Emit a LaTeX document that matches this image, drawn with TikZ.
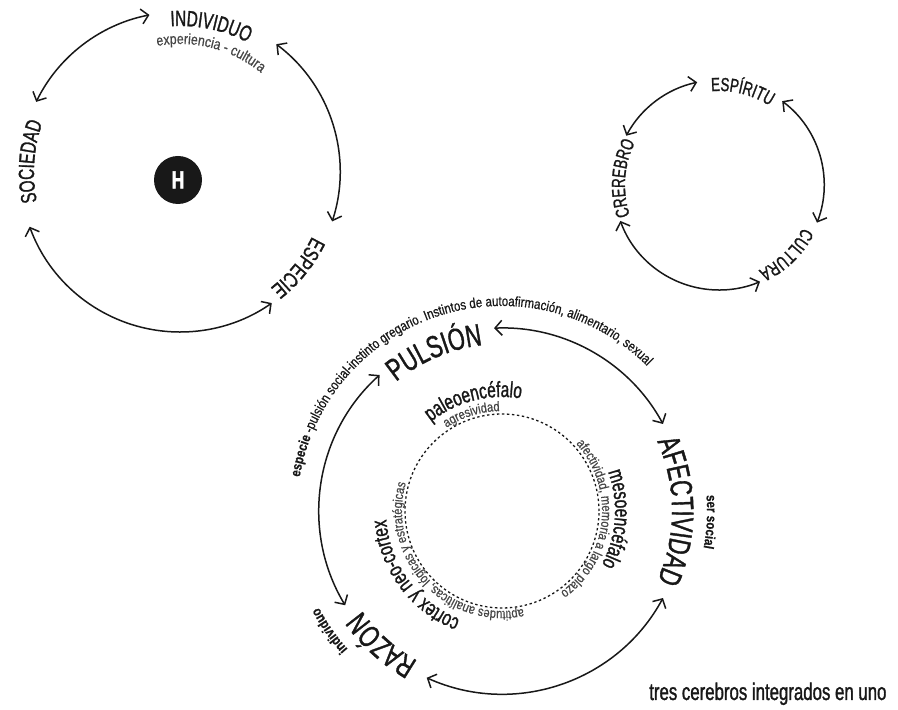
\documentclass[tikz,border=0pt]{standalone}
\usepackage{fontspec}
\setmainfont{Liberation Sans}
\newfontfamily\condfont[FakeStretch=0.7,FakeBold=1.2]{Liberation Sans}
\newfontfamily\smallfont[FakeStretch=0.82,FakeBold=0.6]{Liberation Sans}
\usetikzlibrary{arrows.meta,decorations.text}
\definecolor{diagcolor0000}{RGB}{255,255,255}
\definecolor{diagcolor0001}{RGB}{24,24,24}
\definecolor{diagcolor0002}{RGB}{70,70,70}
\newcommand{\ftxtA}{\condfont\fontsize{31}{31}\selectfont\color{diagcolor0001}}
\newcommand{\ftxtB}{\condfont\fontsize{22}{22}\selectfont\color{diagcolor0001}}
\newcommand{\ftxtC}{\condfont\fontsize{19}{19}\selectfont\color{diagcolor0001}}
\newcommand{\ftxtD}{\smallfont\fontsize{14}{14}\selectfont\color{diagcolor0001}}
\newcommand{\ftxtE}{\smallfont\fontsize{15}{15}\selectfont\color{diagcolor0002}}
\newcommand{\ftxtF}{\smallfont\fontsize{13.5}{13.5}\selectfont\color{diagcolor0002}}

\begin{document}
\begin{tikzpicture}[x=1pt,y=1pt
,astyle0/.style={color=diagcolor0001,line width=1.5pt,>={Straight Barb[length=7pt,width=15pt]},<->}
,astyle1/.style={color=diagcolor0001,line width=1.3pt,dash pattern=on 2.4pt off 2.6pt}
,tstyle0/.style={decorate,decoration={text along path,text align=center,text={#1}}}
,hstyle/.style={circle,fill=diagcolor0001,minimum size=48pt,inner sep=0pt,text=diagcolor0000,font=\condfont\bfseries\fontsize{25}{25}\selectfont}
]
\fill[diagcolor0000] (0,0) rectangle (898,710);
\useasboundingbox (0,0) rectangle (898,710);
\coordinate (C1) at (180,538);
\coordinate (C2) at (719,525);
\coordinate (C3) at (502,199);
\draw[astyle0] ([shift={(101:160pt)}]C1) arc[start angle=101,end angle=154,radius=160pt];
\draw[astyle0] ([shift={(53:160pt)}]C1) arc[start angle=53,end angle=-18,radius=160pt];
\draw[astyle0] ([shift={(200:160pt)}]C1) arc[start angle=200,end angle=305,radius=160pt];
\path[tstyle0={|\ftxtB|INDIVIDUO}] ([shift={(118:146pt)}]C1) arc[start angle=118,end angle=38,radius=146pt];
\path[tstyle0={|\ftxtE|experiencia - cultura}] ([shift={(125:128pt)}]C1) arc[start angle=125,end angle=26,radius=128pt];
\path[tstyle0={|\ftxtB|SOCIEDAD}] ([shift={(216:146pt)}]C1) arc[start angle=216,end angle=136,radius=146pt];
\path[tstyle0={|\ftxtB|ESPECIE}] ([shift={(1:147pt)}]C1) arc[start angle=1,end angle=-79,radius=147pt];
\node (H) at (178,530) [hstyle] {H};
\draw[astyle0] ([shift={(102:105pt)}]C2) arc[start angle=102,end angle=152,radius=105pt];
\draw[astyle0] ([shift={(53:105pt)}]C2) arc[start angle=53,end angle=-21,radius=105pt];
\draw[astyle0] ([shift={(200:105pt)}]C2) arc[start angle=200,end angle=293,radius=105pt];
\path[tstyle0={|\ftxtC|ESPÍRITU}] ([shift={(116:94pt)}]C2) arc[start angle=116,end angle=36,radius=94pt];
\path[tstyle0={|\ftxtC|CREREBRO}] ([shift={(216:94pt)}]C2) arc[start angle=216,end angle=136,radius=94pt];
\path[tstyle0={|\ftxtC|CULTURA}] ([shift={(-6:94pt)}]C2) arc[start angle=-6,end angle=-86,radius=94pt];
\draw[astyle0] ([shift={(92.5:183pt)}]C3) arc[start angle=92.5,end angle=28.4,radius=183pt];
\draw[astyle0] ([shift={(132:183pt)}]C3) arc[start angle=132,end angle=211,radius=183pt];
\draw[astyle0] ([shift={(245.7:183pt)}]C3) arc[start angle=245.7,end angle=331.6,radius=183pt];
\draw[astyle1] (C3) circle[radius=97pt];
\path[tstyle0={|\ftxtA|PULSIÓN}] ([shift={(163:167pt)}]C3) arc[start angle=163,end angle=63,radius=167pt];
\path[tstyle0={|\ftxtA|AFECTIVIDAD}] ([shift={(50:170pt)}]C3) arc[start angle=50,end angle=-50,radius=170pt];
\path[tstyle0={|\ftxtA|RAZÓN}] ([shift={(278:172pt)}]C3) arc[start angle=278,end angle=178,radius=172pt];
\path[tstyle0={|\ftxtD\bfseries|especie |\ftxtD|-pulsión social-instinto gregario. Instintos de autoafirmación, alimentario, sexual}] ([shift={(197.75:205pt)}]C3) arc[start angle=197.75,end angle=17.75,radius=205pt];
\path[tstyle0={|\ftxtD\bfseries|ser social}] ([shift={(27:205pt)}]C3) arc[start angle=27,end angle=-33,radius=205pt];
\path[tstyle0={|\ftxtD\bfseries|individuo}] ([shift={(244.8:207pt)}]C3) arc[start angle=244.8,end angle=184.8,radius=207pt];
\path[tstyle0={|\ftxtB|paleoencéfalo}] ([shift={(164.5:114pt)}]C3) arc[start angle=164.5,end angle=44.5,radius=114pt];
\path[tstyle0={|\ftxtF|agresividad}] ([shift={(157.5:100pt)}]C3) arc[start angle=157.5,end angle=57.5,radius=100pt];
\path[tstyle0={|\ftxtB|mesoencéfalo}] ([shift={(56:113pt)}]C3) arc[start angle=56,end angle=-64,radius=113pt];
\path[tstyle0={|\ftxtF|afectividad, memoria a largo plazo}] ([shift={(64:100pt)}]C3) arc[start angle=64,end angle=-76,radius=100pt];
\path[tstyle0={|\ftxtB|cortex y neo-cortex}] ([shift={(276.5:116pt)}]C3) arc[start angle=276.5,end angle=156.5,radius=116pt];
\path[tstyle0={|\ftxtF|aptitudes analíticas, lógicas y estratégicas}] ([shift={(303:100pt)}]C3) arc[start angle=303,end angle=143,radius=100pt];
\node (lema) at (890,10) [anchor=base east,color=diagcolor0001,font=\condfont\fontsize{24}{24}\selectfont] {tres cerebros integrados en uno};
\end{tikzpicture}
\end{document}
